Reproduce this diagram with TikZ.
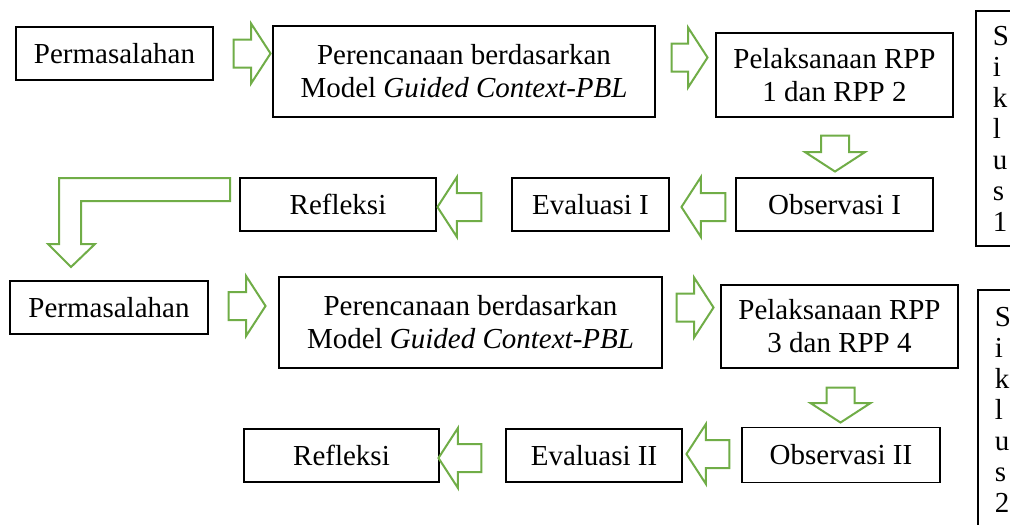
\documentclass[tikz,border=0pt]{standalone}
\usepackage{fontspec}
\setmainfont{Liberation Serif}
\usetikzlibrary{shapes.arrows}
\definecolor{arrowgreen}{RGB}{112,173,71}
\newcommand{\boxfont}{\fontsize{29}{33}\selectfont}
\newcommand{\sikfont}{\fontsize{29}{31}\selectfont}
\tikzset{
	box/.style={draw, line width=1.8pt, inner sep=0pt, align=center, font=\boxfont},
	siklus/.style={draw, line width=1.8pt, inner ysep=0pt, inner xsep=17pt, text width=14pt, align=left, font=\sikfont},
	blockarrow/.style={single arrow, draw=arrowgreen, line width=2pt, inner xsep=0pt, inner ysep=13pt,
		single arrow head extend=16pt, single arrow tip angle=114, single arrow head indent=0pt},
	greenline/.style={draw=arrowgreen, line width=2pt, line join=miter}
}

\begin{document}
\begin{tikzpicture}[x=1pt,y=-1pt]
		\path [use as bounding box, fill=white] (0,0) rectangle (1010,525);
		\node [box, minimum width=197pt, minimum height=53pt] (perm1) at (114.5,53.5) {Permasalahan};
		\node [box, minimum width=382pt, minimum height=91pt] (renc1) at (464,71.5) {Perencanaan berdasarkan\\Model \textit{Guided Context-PBL}};
		\node [box, minimum width=237pt, minimum height=84pt] (pel1) at (834.5,75) {Pelaksanaan RPP\\1 dan RPP 2};
		\node [box, minimum width=196pt, minimum height=53pt] (ref1) at (338,204.5) {Refleksi};
		\node [box, minimum width=157pt, minimum height=53pt] (eva1) at (590.5,204.5) {Evaluasi I};
		\node [box, minimum width=197pt, minimum height=53pt] (obs1) at (834.5,204.5) {Observasi I};
		\node [siklus, minimum height=235pt, anchor=north west] (sik1) at (975,10) {S\\i\\k\\l\\u\\s\\1};
		\node [blockarrow, minimum height=37pt] (r1) at (247.5,53.5) {};
		\node [blockarrow, minimum height=36pt] (r2) at (685,57.5) {};
		\node [blockarrow, minimum height=36pt, rotate=-90] (d1) at (835,149) {};
		\node [blockarrow, minimum height=44pt, rotate=180] (l1) at (708,207) {};
		\node [blockarrow, minimum height=44pt, rotate=180] (l2) at (464,207) {};
		\draw [greenline] (230,178) -- (59,178) -- (59,244) -- (48,244) -- (71,267) -- (95,244) -- (81,244) -- (81,201) -- (230,201) -- cycle;
		\node [box, minimum width=198pt, minimum height=53pt] (perm2) at (109,307.5) {Permasalahan};
		\node [box, minimum width=383pt, minimum height=91pt] (renc2) at (470.5,322.5) {Perencanaan berdasarkan\\Model \textit{Guided Context-PBL}};
		\node [box, minimum width=237pt, minimum height=83pt] (pel2) at (839.5,326.5) {Pelaksanaan RPP\\3 dan RPP 4};
		\node [box, minimum width=195pt, minimum height=53pt] (ref2) at (341.5,455.5) {Refleksi};
		\node [box, minimum width=176pt, minimum height=53pt] (eva2) at (594,455.5) {Evaluasi II};
		\node [box, minimum width=198pt, minimum height=55pt] (obs2) at (841,455) {Observasi II};
		\node [siklus, minimum height=240pt, anchor=north west] (sik2) at (977,289) {S\\i\\k\\l\\u\\s\\2};
		\node [blockarrow, minimum height=37pt] (r3) at (242.5,306) {};
		\node [blockarrow, minimum height=37pt] (r4) at (690.5,307.5) {};
		\node [blockarrow, minimum height=35pt, rotate=-90] (d2) at (840.5,400.5) {};
		\node [blockarrow, minimum height=43pt, rotate=180] (l3) at (712.5,454) {};
		\node [blockarrow, minimum height=43pt, rotate=180] (l4) at (464.5,458) {};
	\end{tikzpicture}
\end{document}
